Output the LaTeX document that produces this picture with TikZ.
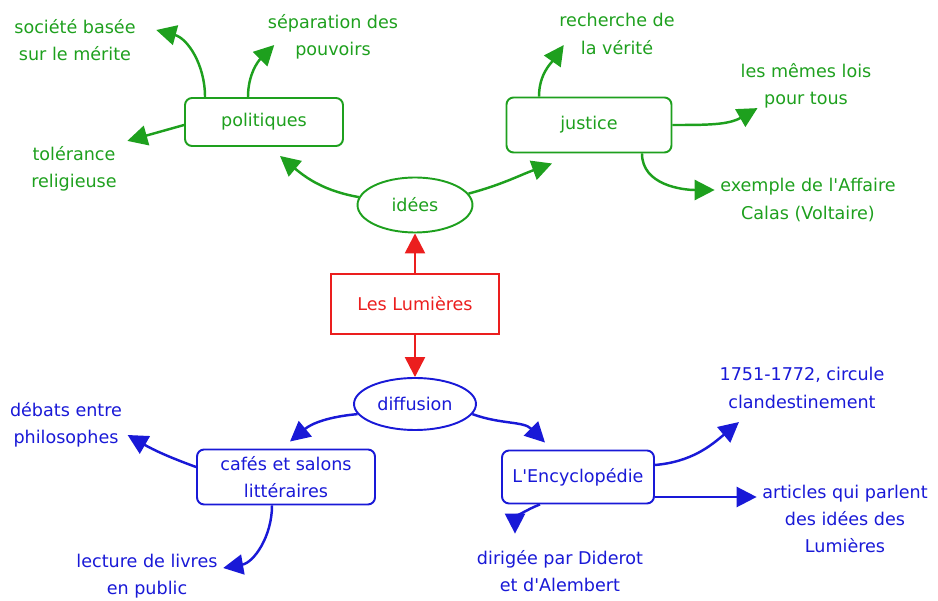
\documentclass[tikz,border=0pt]{standalone}
\usepackage{fontspec}
\setmainfont{DejaVu Sans}
\usepackage{tikz}
\definecolor{mapgreen}{RGB}{30, 160, 30}
\definecolor{mapblue}{RGB}{25, 25, 215}
\definecolor{mapred}{RGB}{235, 30, 30}
\usetikzlibrary{shapes.geometric, arrows.meta, positioning, calc}

\begin{document}
\begin{tikzpicture}[
    x=0.02cm, y=-0.02cm,
    font=\fontsize{10}{15.5}\selectfont,
    hub/.style={rectangle, draw=#1, text=#1, line width=1.1pt, rounded corners=4pt, align=center, inner sep=2pt},
    core/.style={rectangle, draw=mapred, text=mapred, line width=1.1pt, minimum width=3.36cm, minimum height=1.2cm, align=center},
    oval/.style={ellipse, draw=#1, text=#1, line width=1.1pt, inner sep=0pt},
    leaf/.style={text=#1, align=center, inner sep=3pt},
    arrow/.style={-{Triangle[length=0.4cm, width=0.4cm]}, line width=1.4pt, #1}
]
    \useasboundingbox (0,0) rectangle (938,601);

    % centre
    \node[core] (lum) at (415,304) {Les Lumières};
    \node[oval=mapgreen, minimum width=2.3cm, minimum height=1.1cm] (ide) at (415,205) {idées};
    \node[oval=mapblue, minimum width=2.44cm, minimum height=1.04cm] (dif) at (415,404) {diffusion};

    % idées
    \node[hub=mapgreen, minimum width=3.16cm, minimum height=0.96cm] (pol) at (264,122) {politiques};
    \node[hub=mapgreen, minimum width=3.3cm, minimum height=1.1cm] (jus) at (589,125) {justice};
    \node[leaf=mapgreen] (soc) at (75,40) {société basée\\sur le mérite};
    \node[leaf=mapgreen] (sep) at (333,37) {séparation des\\pouvoirs};
    \node[leaf=mapgreen] (tol) at (74,169) {tolérance\\religieuse};
    \node[leaf=mapgreen] (rech) at (617,34) {recherche de\\la vérité};
    \node[leaf=mapgreen] (lois) at (806,86) {les mêmes lois\\pour tous};
    \node[leaf=mapgreen] (calas) at (808,200) {exemple de l\textquotesingle Affaire\\Calas (Voltaire)};

    % diffusion
    \node[hub=mapblue, minimum width=3.56cm, minimum height=1.1cm] (caf) at (286,477) {cafés et salons\\littéraires};
    \node[hub=mapblue, minimum width=3.04cm, minimum height=1.06cm] (enc) at (578,477) {L\textquotesingle Encyclopédie};
    \node[leaf=mapblue] (deb) at (66,425) {débats entre\\philosophes};
    \node[leaf=mapblue] (lect) at (147,576) {lecture de livres\\en public};
    \node[leaf=mapblue] (date) at (802,388) {1751-1772, circule\\clandestinement};
    \node[leaf=mapblue] (art) at (845,519) {articles qui parlent\\des idées des\\Lumières};
    \node[leaf=mapblue] (dir) at (560,571) {dirigée par Diderot\\et d\textquotesingle Alembert};

    \draw[arrow=mapred] (lum) -- (ide);
    \draw[arrow=mapred] (lum) -- (dif);

    \draw[arrow=mapgreen] (ide.172) to[out=170, in=-40] ([xshift=0.32cm, yshift=-0.18cm]pol.south);
    \draw[arrow=mapgreen] (ide.12) to[out=15, in=200] ([xshift=-0.74cm, yshift=-0.2cm]jus.south);
    \draw[arrow=mapgreen] ([xshift=-1.18cm]pol.north) to[out=90, in=-15] ([xshift=0.3cm, yshift=0.2cm]soc.east);
    \draw[arrow=mapgreen] ([xshift=-0.32cm]pol.north) to[out=90, in=225] ([xshift=0.24cm, yshift=-0.16cm]sep.west);
    \draw[arrow=mapgreen] ([yshift=-0.06cm]pol.west) -- ([xshift=0.1cm]tol.north east);
    \draw[arrow=mapgreen] ([xshift=-1.0cm]jus.north) to[out=90, in=235] ([xshift=0.2cm, yshift=0.3cm]rech.south west);
    \draw[arrow=mapgreen] (jus.east) to[out=0, in=210] ([xshift=0.45cm, yshift=0.12cm]lois.south west);
    \draw[arrow=mapgreen] ([xshift=1.06cm]jus.south) to[out=-90, in=180] ([yshift=0.2cm]calas.west);

    \draw[arrow=mapblue] (dif.190) to[out=185, in=40] ([xshift=0.08cm, yshift=0.14cm]caf.north);
    \draw[arrow=mapblue] (dif.-10) to[out=-20, in=135] ([xshift=-0.66cm, yshift=0.14cm]enc.north);
    \draw[arrow=mapblue] ([yshift=0.2cm]caf.west) to[out=160, in=-30] ([yshift=-0.2cm]deb.east);
    \draw[arrow=mapblue] ([xshift=-0.28cm]caf.south) to[out=-90, in=10] ([yshift=0.16cm]lect.east);
    \draw[arrow=mapblue] ([yshift=0.24cm]enc.east) to[out=5, in=220] ([xshift=0.5cm, yshift=-0.16cm]date.south west);
    \coordinate (encr) at ([yshift=-0.4cm]enc.east);
    \draw[arrow=mapblue] (encr) -- (encr -| art.west);
    \draw[arrow=mapblue] ([xshift=-0.76cm]enc.south) to[out=200, in=90] ([xshift=-0.9cm, yshift=0.22cm]dir.north);
\end{tikzpicture}
\end{document}
